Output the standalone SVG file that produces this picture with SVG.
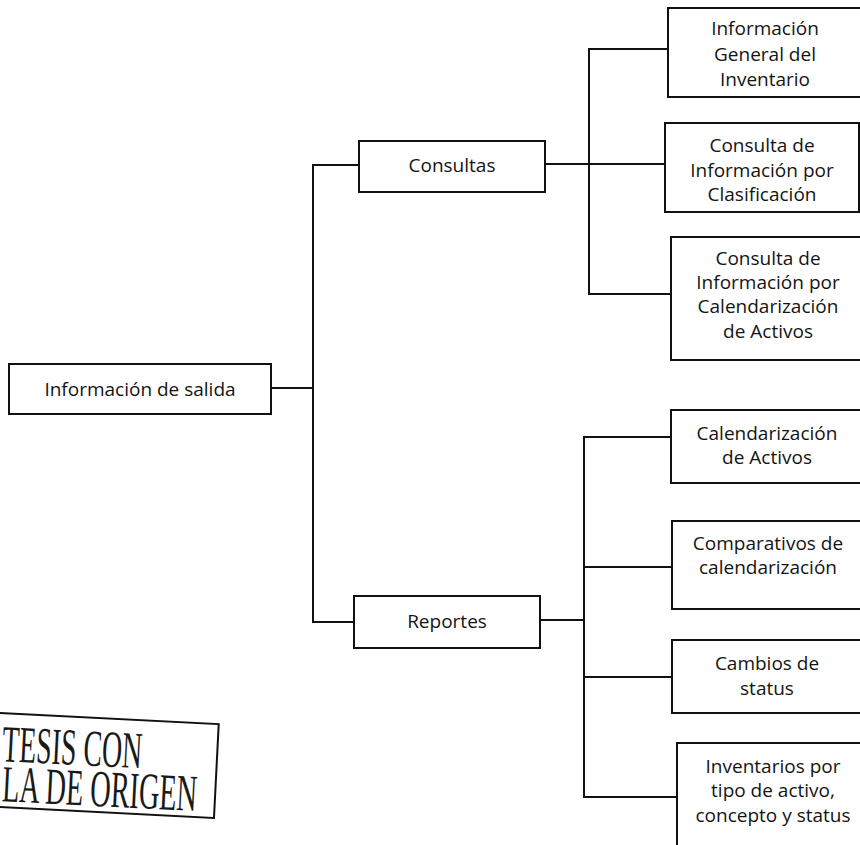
<svg xmlns="http://www.w3.org/2000/svg" width="860" height="845" viewBox="0 0 860 845">
<style>
.box{fill:#fff;stroke:#111;stroke-width:2}
.ln{stroke:#111;stroke-width:2;fill:none}
.t{font-family:"Open Sans","Liberation Sans",sans-serif;font-size:19px;fill:#141414;text-anchor:middle}
.st{font-family:"Liberation Serif",serif;font-size:52px;fill:#1a1a1a}
</style>
<rect width="860" height="845" fill="#fff"/>
<g id="connectors">
<polyline class="ln" points="272,388 313,388"/>
<polyline class="ln" points="359,165 313,165 313,622 354,622"/>
<polyline class="ln" points="545,164 665,164"/>
<polyline class="ln" points="668,49 589,49 589,294 671,294"/>
<polyline class="ln" points="540,620 584,620"/>
<polyline class="ln" points="671,437 584,437 584,797 677,797"/>
<polyline class="ln" points="584,567 672,567"/>
<polyline class="ln" points="584,677 672,677"/>
</g>
<g id="root">
<rect class="box" x="9" y="364" width="262" height="50"/>
<text class="t" x="140" y="396">Información de salida</text>
</g>
<g id="consultas">
<rect class="box" x="359" y="141" width="186" height="51"/>
<text class="t" x="452" y="172">Consultas</text>
</g>
<g id="reportes">
<rect class="box" x="354" y="596" width="186" height="52"/>
<text class="t" x="447" y="628">Reportes</text>
</g>
<g id="info-general">
<rect class="box" x="668" y="8" width="200" height="89"/>
<text class="t" x="765" y="35">Información</text>
<text class="t" x="765" y="61">General del</text>
<text class="t" x="765" y="86">Inventario</text>
</g>
<g id="consulta-clasificacion">
<rect class="box" x="665" y="123" width="194" height="89"/>
<text class="t" x="762" y="152">Consulta de</text>
<text class="t" x="762" y="177">Información por</text>
<text class="t" x="762" y="201">Clasificación</text>
</g>
<g id="consulta-calendarizacion">
<rect class="box" x="671" y="237" width="200" height="123"/>
<text class="t" x="768" y="265">Consulta de</text>
<text class="t" x="768" y="289">Información por</text>
<text class="t" x="768" y="313">Calendarización</text>
<text class="t" x="768" y="338">de Activos</text>
</g>
<g id="calendarizacion-activos">
<rect class="box" x="671" y="410" width="200" height="73"/>
<text class="t" x="767" y="440">Calendarización</text>
<text class="t" x="767" y="464">de Activos</text>
</g>
<g id="comparativos">
<rect class="box" x="672" y="521" width="200" height="88"/>
<text class="t" x="768" y="550">Comparativos de</text>
<text class="t" x="768" y="574">calendarización</text>
</g>
<g id="cambios-status">
<rect class="box" x="672" y="640" width="200" height="73"/>
<text class="t" x="767" y="670">Cambios de</text>
<text class="t" x="767" y="695">status</text>
</g>
<g id="inventarios">
<rect class="box" x="677" y="743" width="200" height="120"/>
<text class="t" x="773" y="773">Inventarios por</text>
<text class="t" x="773" y="797">tipo de activo,</text>
<text class="t" x="773" y="822">concepto y status</text>
</g>
<g id="stamp" transform="translate(0,713) rotate(2.9)">
<rect x="-80" y="0" width="299" height="94" fill="none" stroke="#111" stroke-width="2"/>
<text class="st" x="4" y="48" textLength="140" lengthAdjust="spacingAndGlyphs">TESIS CON</text>
<text class="st" x="6" y="88" textLength="195" lengthAdjust="spacingAndGlyphs">LA DE ORIGEN</text>
</g>
</svg>
